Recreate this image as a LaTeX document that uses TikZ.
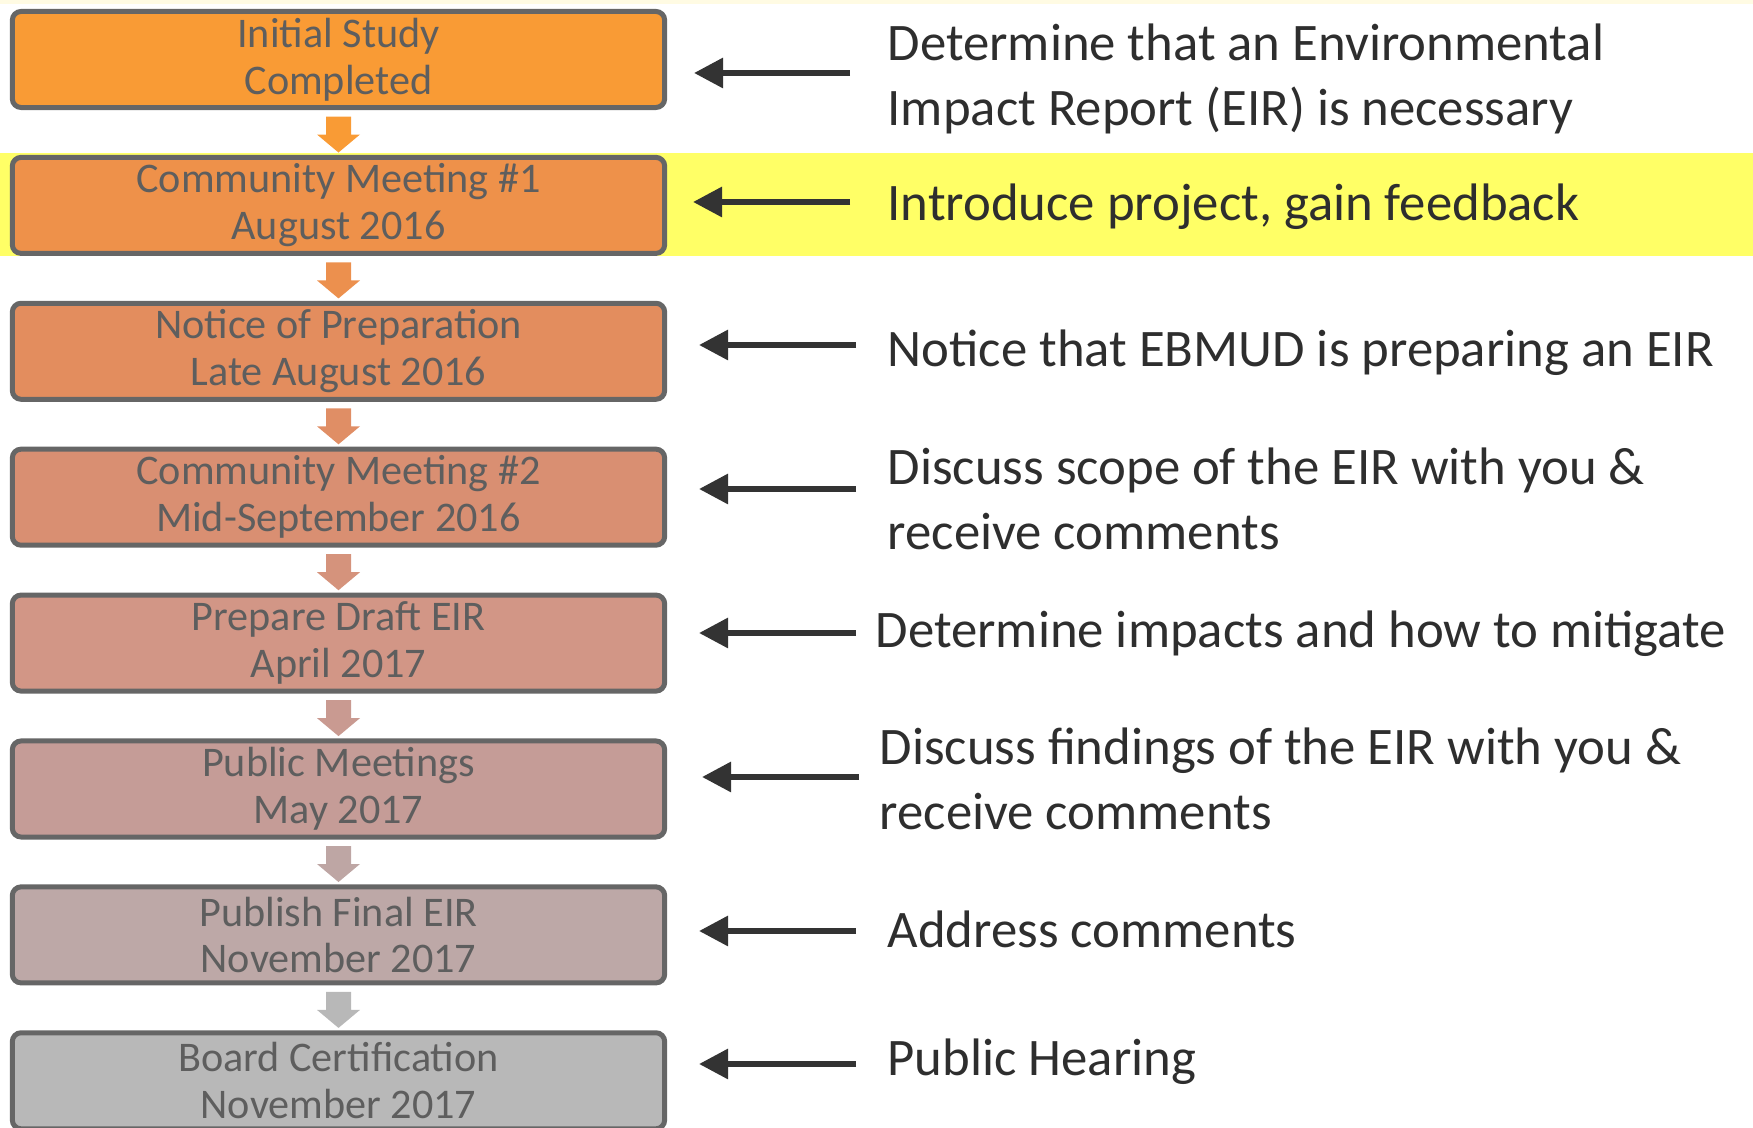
\documentclass[tikz,border=0pt]{standalone}
\usepackage{fontspec}
\setmainfont{Carlito}
\usetikzlibrary{arrows.meta}

\begin{document}
\begin{tikzpicture}[x=0.01cm,y=-0.01cm,
  stage/.style={draw=customcolor0,line width=1.42pt,rounded corners=2.5pt,minimum width=6.52cm,minimum height=0.96cm,inner sep=0pt,align=center,text=customcolor1,font=\fontsize{12}{13.3}\selectfont},
  pointer/.style={-{Triangle[length=0.29cm,width=0.29cm]},customcolor2,line width=1.7pt},
  remark/.style={anchor=base west,align=left,text=customcolor3,inner sep=0pt,font=\fontsize{15}{18.4}\selectfont}]
\definecolor{customcolor0}{HTML}{666666}
\definecolor{customcolor1}{HTML}{5E5E5E}
\definecolor{customcolor2}{HTML}{333333}
\definecolor{customcolor3}{HTML}{2E2E2E}
\definecolor{highlight}{HTML}{FFFF66}
\definecolor{topstrip}{HTML}{FFFBE3}
\definecolor{stage1}{HTML}{F99B35}
\definecolor{stage2}{HTML}{EE914A}
\definecolor{stage3}{HTML}{E38D5E}
\definecolor{stage4}{HTML}{D98F72}
\definecolor{stage5}{HTML}{D29686}
\definecolor{stage6}{HTML}{C59C97}
\definecolor{stage7}{HTML}{BDA8A7}
\definecolor{stage8}{HTML}{B8B8B8}
\useasboundingbox (0,0) rectangle (1753,1128);
% highlighted row
\fill[topstrip] (0,0) rectangle (1753,4);
\fill[highlight] (0,153) rectangle (1753,256);
% stages
\node[stage,fill=stage1] (initial) at (338.5,59.5) {Initial Study\\Completed};
\node[stage,fill=stage2] (meeting1) at (338.5,205.4) {Community Meeting \#1\\August 2016};
\node[stage,fill=stage3] (notice) at (338.5,351.3) {Notice of Preparation\\Late August 2016};
\node[stage,fill=stage4] (meeting2) at (338.5,497.2) {Community Meeting \#2\\Mid-September 2016};
\node[stage,fill=stage5] (draft) at (338.5,643.1) {Prepare Draft EIR\\April 2017};
\node[stage,fill=stage6] (publicmtg) at (338.5,789) {Public Meetings\\May 2017};
\node[stage,fill=stage7] (final) at (338.5,934.9) {Publish Final EIR\\November 2017};
\node[stage,fill=stage8] (board) at (338.5,1080.8) {Board Certification\\November 2017};
% block arrows between stages
\fill[stage1] (initial.south) ++(-12.5,6.5) -- ++(25,0) -- ++(0,18) -- ++(9,0) -- ++(-21.5,18) -- ++(-21.5,-18) -- ++(9,0) -- cycle;
\fill[stage2!83!stage3] (meeting1.south) ++(-12.5,6.5) -- ++(25,0) -- ++(0,18) -- ++(9,0) -- ++(-21.5,18) -- ++(-21.5,-18) -- ++(9,0) -- cycle;
\fill[stage3!67!stage4] (notice.south) ++(-12.5,6.5) -- ++(25,0) -- ++(0,18) -- ++(9,0) -- ++(-21.5,18) -- ++(-21.5,-18) -- ++(9,0) -- cycle;
\fill[stage4!50!stage5] (meeting2.south) ++(-12.5,6.5) -- ++(25,0) -- ++(0,18) -- ++(9,0) -- ++(-21.5,18) -- ++(-21.5,-18) -- ++(9,0) -- cycle;
\fill[stage5!33!stage6] (draft.south) ++(-12.5,6.5) -- ++(25,0) -- ++(0,18) -- ++(9,0) -- ++(-21.5,18) -- ++(-21.5,-18) -- ++(9,0) -- cycle;
\fill[stage6!17!stage7] (publicmtg.south) ++(-12.5,6.5) -- ++(25,0) -- ++(0,18) -- ++(9,0) -- ++(-21.5,18) -- ++(-21.5,-18) -- ++(9,0) -- cycle;
\fill[stage8] (final.south) ++(-12.5,6.5) -- ++(25,0) -- ++(0,18) -- ++(9,0) -- ++(-21.5,18) -- ++(-21.5,-18) -- ++(9,0) -- cycle;
% explanations (base = last line)
\node[remark] (why1) at (887,125.5) {Determine that an Environmental\\Impact Report (EIR) is necessary};
\node[remark] (why2) at (887,220.5) {Introduce project, gain feedback};
\node[remark] (why3) at (887,366.5) {Notice that EBMUD is preparing an EIR};
\node[remark] (why4) at (887,549.5) {Discuss scope of the EIR with you \&\\receive comments};
\node[remark] (why5) at (875,647.5) {Determine impacts and how to mitigate};
\node[remark] (why6) at (879,829.5) {Discuss findings of the EIR with you \&\\receive comments};
\node[remark] (why7) at (887,947.5) {Address comments};
\node[remark] (why8) at (887,1076) {Public Hearing};
\coordinate (tail1) at (850,73);  \coordinate (tip1) at (694,73);
\coordinate (tail2) at (850,202); \coordinate (tip2) at (693,202);
\coordinate (tail3) at (856,345); \coordinate (tip3) at (699,345);
\coordinate (tail4) at (856,489); \coordinate (tip4) at (699,489);
\coordinate (tail5) at (856,633); \coordinate (tip5) at (699,633);
\coordinate (tail6) at (859,777); \coordinate (tip6) at (702,777);
\coordinate (tail7) at (856,931); \coordinate (tip7) at (699,931);
\coordinate (tail8) at (856,1064); \coordinate (tip8) at (699,1064);
\draw[pointer] (tail1) -- (tip1);
\draw[pointer] (tail2) -- (tip2);
\draw[pointer] (tail3) -- (tip3);
\draw[pointer] (tail4) -- (tip4);
\draw[pointer] (tail5) -- (tip5);
\draw[pointer] (tail6) -- (tip6);
\draw[pointer] (tail7) -- (tip7);
\draw[pointer] (tail8) -- (tip8);
\end{tikzpicture}
\end{document}
